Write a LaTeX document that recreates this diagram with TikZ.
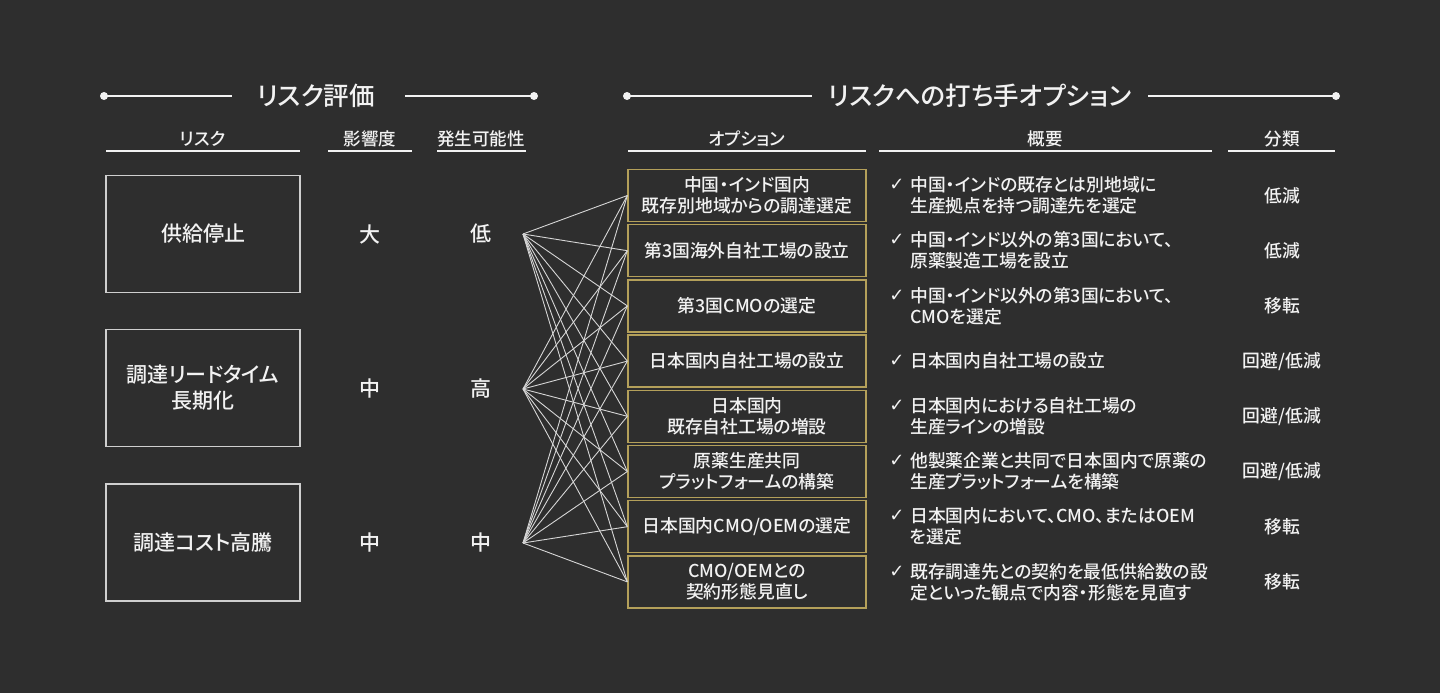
\documentclass[tikz,border=0pt]{standalone}
\usepackage{fontspec}
\setmainfont{Noto Sans CJK JP}[UprightFont={* Medium}, RawFeature=+palt]
\newfontfamily\djv{DejaVu Sans}
\definecolor{bg}{HTML}{2E2E2E}
\definecolor{fg}{HTML}{F2F2F2}
\definecolor{optgold}{HTML}{B4A05A}
\definecolor{riskgray}{HTML}{CFCFCF}
\definecolor{conncol}{HTML}{D6D6D6}
\tikzset{
  ttl/.style={text=fg, font=\fontsize{25.5}{30}\selectfont, inner sep=0pt},
  tline/.style={draw=fg, line width=1.6pt},
  tdot/.style={fill=fg, draw=none},
  colhead/.style={text=fg, font=\fontsize{17.5}{20}\selectfont, inner sep=0pt},
  uline/.style={draw=fg, line width=1.4pt},
  riskbox/.style={draw=riskgray, line width=1.3pt, minimum width=194pt, minimum height=117pt, inner sep=0pt, align=center, text=fg, font=\fontsize{21}{26}\selectfont},
  lvl/.style={text=fg, font=\fontsize{21}{24}\selectfont, inner sep=0pt},
  optbox/.style={draw=optgold, line width=1.3pt, minimum width=238pt, minimum height=52pt, inner sep=0pt, align=center, text=fg, font=\fontsize{17.8}{21}\selectfont},
  desc/.style={anchor=west, align=left, text=fg, font=\fontsize{17.8}{21}\selectfont, inner sep=0pt},
  chk/.style={text=fg, font=\djv\fontsize{18}{20}\selectfont, inner sep=0pt},
  cls/.style={text=fg, font=\fontsize{17.8}{21}\selectfont, inner sep=0pt},
  conn/.style={draw=conncol, line width=0.9pt},
}
\begin{document}
\begin{tikzpicture}[x=1pt,y=-1pt]
\fill[bg] (0,0) rectangle (1440,693);
\useasboundingbox (0,0) rectangle (1440,693);

% section titles
\coordinate (ld1) at (104,96);
\coordinate (ld2) at (534,96);
\node[ttl] (t1) at (316,96) {リスク評価};
\coordinate (l1a) at (232,96);
\coordinate (l1b) at (405,96);
\draw[tline] (ld1) -- (l1a);
\draw[tline] (l1b) -- (ld2);
\fill[tdot] (ld1) circle (4pt);
\fill[tdot] (ld2) circle (4pt);

\coordinate (rd1) at (627,96);
\coordinate (rd2) at (1336,96);
\node[ttl] (t2) at (980,96) {リスクへの打ち手オプション};
\coordinate (l2a) at (812,96);
\coordinate (l2b) at (1148,96);
\draw[tline] (rd1) -- (l2a);
\draw[tline] (l2b) -- (rd2);
\fill[tdot] (rd1) circle (4pt);
\fill[tdot] (rd2) circle (4pt);

% column headers
\node[colhead] (h1) at (203,139) {リスク};
\node[colhead] (h2) at (370,139) {影響度};
\node[colhead] (h3) at (481,139) {発生可能性};
\node[colhead] (h4) at (747,139) {オプション};
\node[colhead] (h5) at (1045,139) {概要};
\node[colhead] (h6) at (1282,139) {分類};
\draw[uline] (106,151) -- (300,151);
\draw[uline] (328,151) -- (412,151);
\draw[uline] (437,151) -- (526,151);
\draw[uline] (628,151) -- (866,151);
\draw[uline] (879,151) -- (1212,151);
\draw[uline] (1228,151) -- (1335,151);

% risks
\node[riskbox] (r1) at (203,234) {供給停止};
\node[riskbox] (r2) at (203,388) {調達リードタイム\\長期化};
\node[riskbox] (r3) at (203,542.5) {調達コスト高騰};

\node[lvl] (i1) at (370,234) {大};
\node[lvl] (i2) at (370,389) {中};
\node[lvl] (i3) at (370,543) {中};
\node[lvl] (p1) at (481,234) {低};
\node[lvl] (p2) at (481,389) {高};
\node[lvl] (p3) at (481,543) {中};

\coordinate (s1) at (523,234);
\coordinate (s2) at (523,389);
\coordinate (s3) at (523,543);

% options
\node[optbox] (o1) at (747,195.5) {中国・インド国内\\既存別地域からの調達選定};
\node[optbox] (o2) at (747,250.7) {第3国海外自社工場の設立};
\node[optbox] (o3) at (747,305.9) {第3国CMOの選定};
\node[optbox] (o4) at (747,361.1) {日本国内自社工場の設立};
\node[optbox] (o5) at (747,416.3) {日本国内\\既存自社工場の増設};
\node[optbox] (o6) at (747,471.5) {原薬生産共同\\プラットフォームの構築};
\node[optbox] (o7) at (747,526.7) {日本国内CMO/OEMの選定};
\node[optbox] (o8) at (747,581.9) {CMO/OEMとの\\契約形態見直し};

\foreach \s in {s1,s2,s3}
  \foreach \o in {o1,o2,o3,o4,o5,o6,o7,o8}
    \draw[conn] (\s) -- (\o.west);

% descriptions
\node[desc] (d1) at (910,195.5) {中国・インドの既存とは別地域に\\生産拠点を持つ調達先を選定};
\node[desc] (d2) at (910,250.7) {中国・インド以外の第3国において、\\原薬製造工場を設立};
\node[desc] (d3) at (910,305.9) {中国・インド以外の第3国において、\\CMOを選定};
\node[desc] (d4) at (910,361.1) {日本国内自社工場の設立};
\node[desc] (d5) at (910,416.3) {日本国内における自社工場の\\生産ラインの増設};
\node[desc] (d6) at (910,471.5) {他製薬企業と共同で日本国内で原薬の\\生産プラットフォームを構築};
\node[desc] (d7) at (910,526.7) {日本国内において、CMO、またはOEM\\を選定};
\node[desc] (d8) at (910,581.9) {既存調達先との契約を最低供給数の設\\定といった観点で内容・形態を見直す};

\node[chk] (c1) at (897,185) {✓};
\node[chk] (c2) at (897,240.2) {✓};
\node[chk] (c3) at (897,295.4) {✓};
\node[chk] (c4) at (897,361.1) {✓};
\node[chk] (c5) at (897,405.8) {✓};
\node[chk] (c6) at (897,461) {✓};
\node[chk] (c7) at (897,516.2) {✓};
\node[chk] (c8) at (897,571.4) {✓};

% classes
\node[cls] (k1) at (1282,195.5) {低減};
\node[cls] (k2) at (1282,250.7) {低減};
\node[cls] (k3) at (1282,305.9) {移転};
\node[cls] (k4) at (1282,361.1) {回避/低減};
\node[cls] (k5) at (1282,416.3) {回避/低減};
\node[cls] (k6) at (1282,471.5) {回避/低減};
\node[cls] (k7) at (1282,526.7) {移転};
\node[cls] (k8) at (1282,581.9) {移転};
\end{tikzpicture}
\end{document}
